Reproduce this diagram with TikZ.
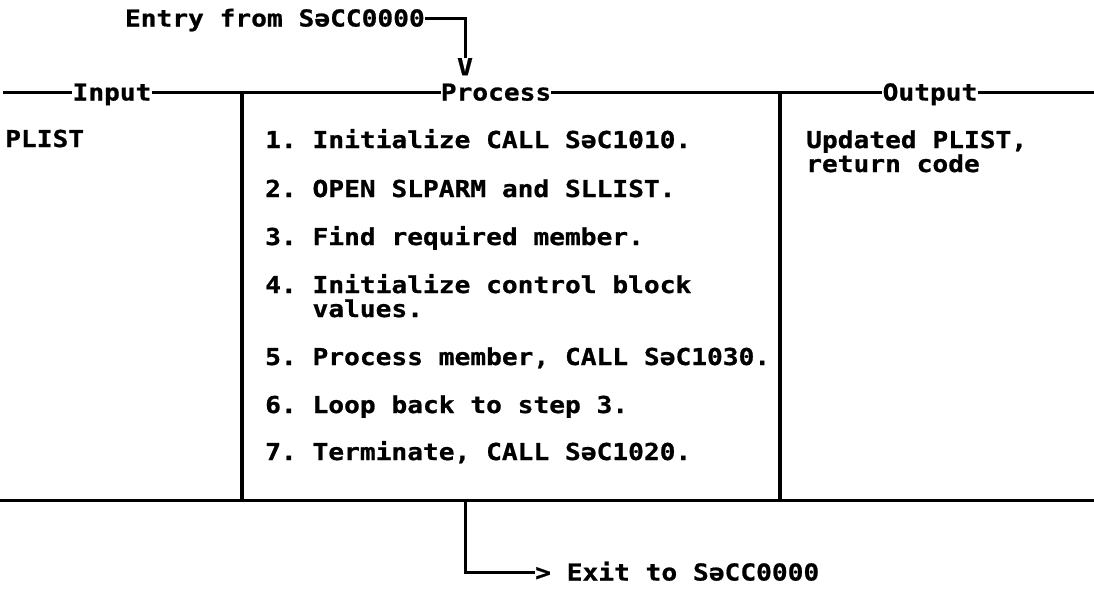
\documentclass[tikz,border=0pt]{standalone}
\usepackage{fontspec}
\newfontfamily\chartfont{DejaVu Sans Mono}[FakeStretch=1.125,FakeBold=0.8]
\frenchspacing
\tikzset{
  txt/.style={font=\chartfont\bfseries\fontsize{23.3}{24}\selectfont, inner sep=0pt, anchor=base west},
  hdr/.style={txt, anchor=center, text height=17pt, text depth=0pt},
  rule/.style={line width=3pt},
  post/.style={line width=4pt},
}
\begin{document}
\begin{tikzpicture}[x=1pt,y=-1pt]
\useasboundingbox (0,0) rectangle (1094,589);

% column headings on the top rule
\node[hdr] (input)   at (112,92) {Input};
\node[hdr] (process) at (496,92) {Process};
\node[hdr] (output)  at (930,92) {Output};
\coordinate (hl) at (3,92);
\coordinate (hr) at (1094,92);
\draw[rule] (hl) -- (input.west);
\draw[rule] (input.east) -- (process.west);
\draw[rule] (process.east) -- (output.west);
\draw[rule] (output.east) -- (hr);

% column dividers and bottom rule
\coordinate (c1t) at (242,92);  \coordinate (c1b) at (242,500);
\coordinate (c2t) at (780,92);  \coordinate (c2b) at (780,500);
\coordinate (bl) at (0,500);    \coordinate (br) at (1094,500);
\draw[post] (c1t) -- (c1b);
\draw[post] (c2t) -- (c2b);
\draw[rule] (bl) -- (br);

% entry
\node[hdr, anchor=east]  (entry) at (425,18) {Entry from SəCC0000};
\node[hdr, anchor=north] (vmark) at (465,58) {V};
\draw[rule] (entry.east) -| (vmark.north);

% input column
\node[txt] (plist) at (5,147) {PLIST};

% process column
\node[txt] (s1)  at (265,148) {1. Initialize CALL SəC1010.};
\node[txt] (s2)  at (265,197) {2. OPEN SLPARM and SLLIST.};
\node[txt] (s3)  at (265,245) {3. Find required member.};
\node[txt] (s4)  at (265,293) {4. Initialize control block};
\node[txt] (s4b) at (265,317) {\phantom{4. }values.};
\node[txt] (s5)  at (265,365) {5. Process member, CALL SəC1030.};
\node[txt] (s6)  at (265,413) {6. Loop back to step 3.};
\node[txt] (s7)  at (265,460) {7. Terminate, CALL SəC1020.};

% output column
\node[txt] (out1) at (806,148) {Updated PLIST,};
\node[txt] (out2) at (806,172) {return code};

% exit
\coordinate (xb) at (465,500);
\node[hdr, anchor=west] (exit) at (535,572) {> Exit to SəCC0000};
\draw[rule] (xb) |- (exit.west);
\end{tikzpicture}
\end{document}
